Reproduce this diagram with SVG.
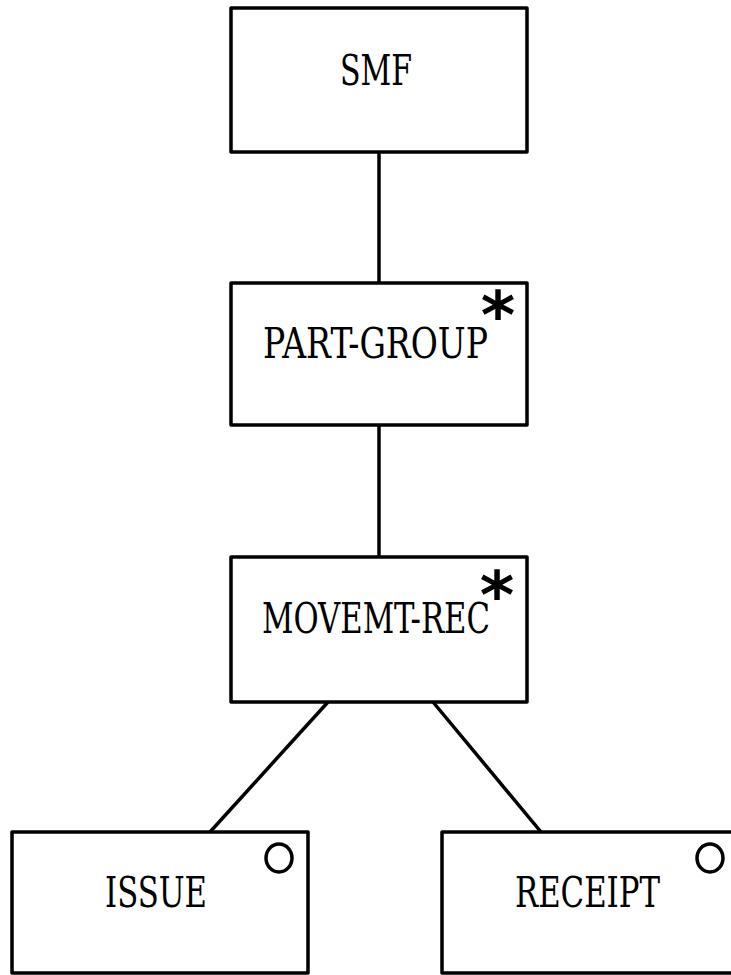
<svg xmlns="http://www.w3.org/2000/svg" width="731" height="975" viewBox="0 0 731 975">
<style>
.box{fill:#fff;stroke:#000;stroke-width:3.5;stroke-linejoin:round}
.lbl{font-family:"DejaVu Serif",serif;font-size:42px;fill:#000;text-anchor:middle}
.ast{font-family:"DejaVu Sans","Liberation Sans",sans-serif;font-weight:bold;font-size:66px;fill:#000;text-anchor:middle}
.opt{fill:none;stroke:#000;stroke-width:3.5}
.con{stroke:#000;stroke-width:3.5;fill:none}
</style>
<rect width="731" height="975" fill="#fff"/>
<g id="connectors">
<line class="con" x1="379" y1="152" x2="379" y2="283"/>
<line class="con" x1="379" y1="425" x2="379" y2="557"/>
<line class="con" x1="328" y1="702" x2="210" y2="832"/>
<line class="con" x1="433" y1="702" x2="541" y2="832"/>
</g>
<g id="smf">
<rect class="box" x="231" y="8" width="296" height="144"/>
<text class="lbl" x="376" y="85" textLength="72" lengthAdjust="spacingAndGlyphs">SMF</text>
</g>
<g id="part-group">
<rect class="box" x="231" y="283" width="296" height="142"/>
<text class="lbl" x="375.5" y="358" textLength="225" lengthAdjust="spacingAndGlyphs">PART-GROUP</text>
<text class="ast" x="498" y="338">*</text>
</g>
<g id="movemt-rec">
<rect class="box" x="231" y="557" width="296" height="145"/>
<text class="lbl" x="376" y="633" textLength="228" lengthAdjust="spacingAndGlyphs">MOVEMT-REC</text>
<text class="ast" x="497" y="618">*</text>
</g>
<g id="issue">
<rect class="box" x="12" y="832" width="296" height="141"/>
<text class="lbl" x="156" y="907" textLength="102" lengthAdjust="spacingAndGlyphs">ISSUE</text>
<ellipse class="opt" cx="279" cy="858" rx="13" ry="14"/>
</g>
<g id="receipt">
<rect class="box" x="442" y="832" width="296" height="141"/>
<text class="lbl" x="587.5" y="907" textLength="145" lengthAdjust="spacingAndGlyphs">RECEIPT</text>
<ellipse class="opt" cx="710" cy="858" rx="13" ry="14"/>
</g>
</svg>
